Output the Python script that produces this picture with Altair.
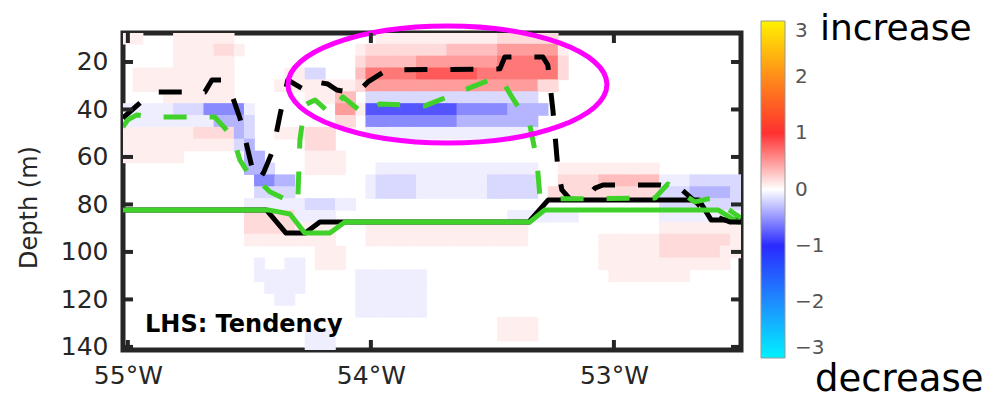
import altair as alt
import pandas as pd

# ---------------- heatmap (tendency) ----------------
lon_start = -55.0          # centre of first column
lon_step = 1 / 24          # column width (deg)
depth_start = 10           # centre of first row (m)
depth_step = 5             # row height (m)

level_values = {
    ".": 0.0,
    "a": 0.08, "b": 0.18, "c": 0.32, "d": 0.48, "e": 0.65, "f": 0.8,
    "A": -0.08, "B": -0.18, "C": -0.35, "D": -0.55, "E": -0.8,
}

# run-length rows (count + level code), 62 columns each
tendency_rows = [
    "2a 3. 6a 14. 12a 6b 19.",                      # 10 m
    "5. 4a 2b 1a 11. 1a 8b 5c 6d 1a 18.",           # 15 m
    "5. 6a 12. 1b 5c 8d 6e 1b 18.",                 # 20 m
    "1. 10a 5. 2a 2B 3. 1c 5e 6f 8e 1b 18.",        # 25 m
    "1. 10a 4. 8a 1b 17d 2b 19.",                   # 30 m
    "4. 7a 7. 3a 2c 1. 17B 21.",                    # 35 m
    "5A 3B 4D 1A 8. 2d 1a 9E 5D 4C 20.",            # 40 m
    "9A 3C 1B 8. 2b 1. 9D 8C 21.",                  # 45 m
    "7a 4b 1C 1B 2. 3a 3b 3. 17A 21.",              # 50 m
    "11a 1B 1C 5. 3b 41.",                          # 55 m
    "6a 6. 2C 4. 4a 40.",                           # 60 m
    "12. 2C 1B 3. 4a 3. 16A 2. 10a 9.",             # 65 m
    "13. 2D 2C 7. 1A 4B 7A 5B 2. 4b 6c 3A 6B",      # 70 m
    "13. 4B 7. 1A 4B 7A 5B 1. 11b 3B 4C 2B",        # 75 m
    "12. 6A 3B 2A 30. 9B",                          # 80 m
    "12. 5b 4A 17. 7A 8. 9A",                       # 85 m
    "12. 5b 4a 3. 16a 13. 9a",                      # 90 m
    "12. 5a 4a 3. 16a 7. 6a 7b 2a",                 # 95 m
    "19. 3a 25. 6a 6b 3a",                          # 100 m
    "13. 1A 2. 2A 1. 3a 25. 13a 2.",                # 105 m
    "13. 5A 5. 7A 18. 8a 6.",                       # 110 m
    "14. 4A 5. 7A 32.",                             # 115 m
    "15. 2A 6. 7A 32.",                             # 120 m
    "23. 7A 32.",                                   # 125 m
    "37. 4a 21.",                                   # 130 m
    "18. 3A 16. 4a 21.",                            # 135 m
    "18. 3A 41.",                                   # 140 m
]

# ---------------- lines ----------------
black_solid_lon = [-55.021, -54.43, -54.35, -54.27, -54.21, -53.35, -53.27, -52.65, -52.60, -52.477]
black_solid_depth = [82.3, 82.3, 92.0, 92.0, 87.4, 87.4, 78.1, 78.1, 86.5, 86.5]

green_solid_lon = [-55.021, -54.424, -54.333, -54.272, -54.169, -54.107, -53.346, -53.284, -52.572, -52.49, -52.477]
green_solid_depth = [82.3, 82.3, 84.0, 92.0, 92.0, 87.4, 87.4, 82.3, 82.3, 87.4, 87.4]

black_dash_lon = [-55.021, -54.951, -54.901, -54.683, -54.654, -54.613, -54.572, -54.539, -54.506,
                  -54.481, -54.461, -54.440, -54.403, -54.374, -54.342, -54.272, -54.226, -54.177,
                  -54.140, -54.099, -54.045, -54.012, -53.934, -53.469, -53.449, -53.292, -53.272,
                  -53.251, -53.230, -53.214, -53.181, -53.119, -53.078, -53.045, -52.811, -52.728,
                  -52.658, -52.617, -52.523, -52.477]
black_dash_depth = [43.6, 37.3, 32.6, 32.6, 27.6, 27.6, 33.9, 43.6, 57.1,
                    68.0, 69.7, 66.3, 57.1, 42.3, 27.6, 31.8, 28.4, 29.3,
                    31.8, 32.6, 31.8, 28.4, 23.4, 22.9, 17.9, 17.9, 21.3,
                    40.2, 65.5, 73.9, 77.7, 78.1, 73.1, 71.8, 71.8, 73.1,
                    79.4, 83.6, 87.4, 87.4]

green_dash_lon = [-55.021, -55.000, -54.963, -54.909, -54.642, -54.568, -54.539, -54.498, -54.457,
                  -54.416, -54.346, -54.317, -54.300, -54.292, -54.272, -54.230, -54.169, -54.115,
                  -54.033, -53.963, -53.778, -53.490, -53.461, -53.420, -53.346, -53.317, -53.305,
                  -53.272, -52.831, -52.778, -52.667, -52.597, -52.502, -52.477]
green_dash_depth = [47.4, 44.4, 42.3, 43.2, 43.2, 51.6, 61.3, 68.0, 70.5,
                    74.7, 78.1, 79.8, 76.0, 52.8, 38.1, 36.0, 41.5, 34.7,
                    41.5, 37.7, 38.5, 26.7, 27.6, 34.7, 46.5, 61.3, 76.0,
                    77.7, 77.3, 71.4, 78.9, 77.3, 84.0, 85.7]

# highlight ellipse (centre lon, depth)
ellipse_center = [-53.685, 29.5]

depth_ticks = [20, 40, 60, 80, 100, 120, 140]
lon_ticks = [-55, -54, -53]
colorbar_ticks = [-3, -2, -1, 0, 1, 2, 3]
colorbar_colors = ["#00f2ff", "#1e8cff", "#2a2aff", "#ffffff", "#ff3030", "#ff8c1a", "#fff200"]

# ---------------- build tables ----------------
SEAM = 0.0015  # tiny overlap so neighbouring cells leave no hairline gaps
cells = []
for r, row in enumerate(tendency_rows):
    k = 0
    for token in row.split():
        n, code = int(token[:-1]), token[-1]
        for _ in range(n):
            v = level_values[code]
            if v != 0:
                lon = lon_start + k * lon_step
                d = depth_start + r * depth_step
                cells.append({"lon0": lon - lon_step / 2 - SEAM, "lon1": lon + lon_step / 2 + SEAM,
                              "d0": d - depth_step / 2 - 0.15, "d1": d + depth_step / 2 + 0.15,
                              "value": v})
            k += 1
cells_df = pd.DataFrame(cells)

W, H = 618, 317
FONT = "DejaVu Sans"
DARK = "#262626"

x_scale = alt.Scale(domain=[-55.02, -52.477], nice=False, zero=False)
y_scale = alt.Scale(domain=[7.8, 141.3], reverse=True, nice=False, zero=False)
color_scale = alt.Scale(domain=colorbar_ticks, range=colorbar_colors, type="linear",
                        interpolate="rgb", zero=False, nice=False)

x_axis = alt.Axis(values=lon_ticks, labelExpr="abs(datum.value) + '°W'", title=None,
                  domain=False, ticks=False, grid=False, labelFontSize=25, labelFont=FONT,
                  labelColor=DARK, labelPadding=13)
y_axis = alt.Axis(values=depth_ticks, title="Depth (m)", titleFont=FONT, titleFontSize=24,
                  titleFontWeight="normal", titleColor=DARK, titleX=-87, titleY=174,
                  titleAngle=270, titleAlign="center", titleBaseline="alphabetic",
                  domain=False, ticks=False, grid=False, labelFontSize=25, labelFont=FONT,
                  labelColor=DARK, labelPadding=15)

heat = alt.Chart(cells_df).mark_rect(clip=True).encode(
    x=alt.X("lon0:Q", scale=x_scale, axis=x_axis),
    x2="lon1:Q",
    y=alt.Y("d0:Q", scale=y_scale, axis=y_axis),
    y2="d1:Q",
    color=alt.Color("value:Q", scale=color_scale, legend=alt.Legend(
        type="gradient", title=None, orient="none", legendX=638, legendY=-12,
        direction="vertical", gradientLength=337, gradientThickness=24,
        values=colorbar_ticks, labelFontSize=20, labelFont=FONT, labelColor="#555555",
        labelOffset=10, gradientStrokeColor="#999999",
        gradientStrokeWidth=1, padding=0, labelOverlap=False)),
)


def line_layer(lons, depths, color, dashed):
    df = pd.DataFrame({"lon": lons, "depth": depths, "i": list(range(len(lons)))})
    kw = dict(color=color, strokeWidth=5, clip=True, strokeCap="butt", strokeJoin="round")
    if dashed:
        kw["strokeDash"] = [23, 23]
    return alt.Chart(df).mark_line(**kw).encode(
        x=alt.X("lon:Q", scale=x_scale, axis=x_axis),
        y=alt.Y("depth:Q", scale=y_scale, axis=y_axis),
        order="i:Q",
    )


GREEN = "#41d12b"
lines = [
    line_layer(black_solid_lon, black_solid_depth, "#000000", False),
    line_layer(green_solid_lon, green_solid_depth, GREEN, False),
    line_layer(black_dash_lon, black_dash_depth, "#000000", True),
    line_layer(green_dash_lon, green_dash_depth, GREEN, True),
]

ellipse_path = ("M-1,0C-1,-0.2026,-0.5523,-0.3668,0,-0.3668C0.5523,-0.3668,1,-0.2026,1,0"
                "C1,0.2026,0.5523,0.3668,0,0.3668C-0.5523,0.3668,-1,0.2026,-1,0Z")
ellipse = alt.Chart(pd.DataFrame({"lon": [ellipse_center[0]], "depth": [ellipse_center[1]]})).mark_point(
    shape=ellipse_path, size=101761, filled=False, stroke="#ff00ff", strokeWidth=5, opacity=1
).encode(
    x=alt.X("lon:Q", scale=x_scale, axis=x_axis),
    y=alt.Y("depth:Q", scale=y_scale, axis=y_axis),
)

# inward ticks on the four sides of the box
dt = pd.DataFrame({"depth": depth_ticks})
lt = pd.DataFrame({"lon": lon_ticks})
TL = 10
tick_kw = dict(color=DARK, strokeWidth=4)
ticks = [
    alt.Chart(dt).mark_rule(**tick_kw).encode(y=alt.Y("depth:Q", scale=y_scale, axis=y_axis),
                                              x=alt.value(0), x2=alt.value(TL)),
    alt.Chart(dt).mark_rule(**tick_kw).encode(y=alt.Y("depth:Q", scale=y_scale, axis=y_axis),
                                              x=alt.value(W - TL), x2=alt.value(W)),
    alt.Chart(lt).mark_rule(**tick_kw).encode(x=alt.X("lon:Q", scale=x_scale, axis=x_axis),
                                              y=alt.value(H - TL), y2=alt.value(H)),
    alt.Chart(lt).mark_rule(**tick_kw).encode(x=alt.X("lon:Q", scale=x_scale, axis=x_axis),
                                              y=alt.value(0), y2=alt.value(TL)),
]


def text_layer(txt, x, y, size, weight="normal", color="#000000"):
    return alt.Chart(pd.DataFrame({"t": [txt]})).mark_text(
        font=FONT, fontSize=size, fontWeight=weight, color=color, align="left",
        baseline="alphabetic").encode(text="t:N", x=alt.value(x), y=alt.value(y))


texts = [
    text_layer("LHS: Tendency", 22, 299, 24, "bold"),
    text_layer("increase", 697, 7, 36),
    text_layer("decrease", 692, 358, 37),
]

chart = alt.layer(heat, *lines, ellipse, *ticks, *texts).properties(
    width=W, height=H,
    autosize=alt.AutoSizeParams(type="none"),
    padding={"left": 115, "top": 25, "right": 242, "bottom": 49},
    background="white",
).configure_view(stroke=DARK, strokeWidth=5)

chart.save("out.html", embed_options={"renderer": "svg", "actions": False})
